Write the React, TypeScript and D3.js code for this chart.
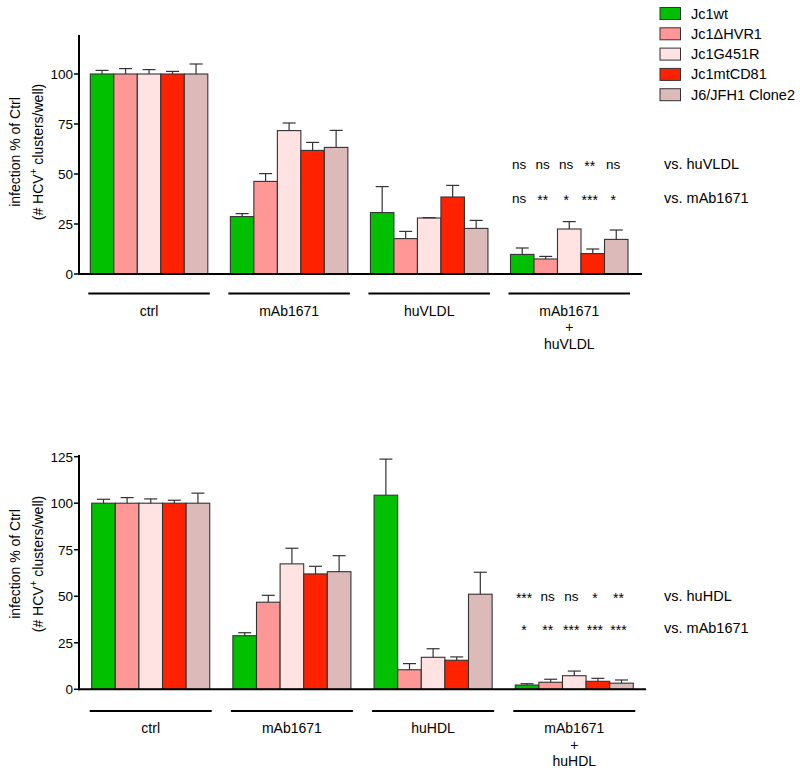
import React from "react";
import * as d3 from "d3";

const series = ["Jc1wt", "Jc1\u0394HVR1", "Jc1G451R", "Jc1mtCD81", "J6/JFH1 Clone2"];
const colors = ["#00c000", "#ff9797", "#ffe3e3", "#ff2200", "#dcbaba"];

const topGroups = ["ctrl", "mAb1671", "huVLDL", "combo"];
const topGroupLabels = [["ctrl"], ["mAb1671"], ["huVLDL"], ["mAb1671", "+", "huVLDL"]];
const topValues = [
  [100, 100, 100, 100, 100],
  [28.7, 46.3, 71.7, 61.8, 63.3],
  [30.7, 17.7, 28, 38.5, 22.8],
  [9.8, 7.5, 22.5, 10.2, 17.3],
];
const topErrTops = [
  [101.8, 102.7, 102.2, 101.3, 105],
  [30.2, 50.2, 75.5, 65.8, 71.8],
  [43.7, 21.3, 28.2, 44.3, 26.8],
  [13, 8.8, 26.2, 12.5, 22],
];
const topTicks = [0, 25, 50, 75, 100];
const topSig1 = ["ns", "ns", "ns", "**", "ns"];
const topSig2 = ["ns", "**", "*", "***", "*"];
const topSigLabels = ["vs. huVLDL", "vs. mAb1671"];

const botGroups = ["ctrl", "mAb1671", "huHDL", "combo"];
const botGroupLabels = [["ctrl"], ["mAb1671"], ["huHDL"], ["mAb1671", "+", "huHDL"]];
const botValues = [
  [100, 100, 100, 100, 100],
  [28.8, 46.8, 67.4, 62, 63.2],
  [104.3, 10.5, 17.2, 15.6, 51.1],
  [2.3, 3.8, 7.3, 4.3, 3.3],
];
const botErrTops = [
  [102.1, 103, 102.3, 101.6, 105.4],
  [30.4, 50.5, 75.8, 66.1, 71.8],
  [123.7, 13.8, 21.8, 17.4, 62.9],
  [3, 5.4, 9.8, 5.9, 5],
];
const botTicks = [0, 25, 50, 75, 100, 125];
const botSig1 = ["***", "ns", "ns", "*", "**"];
const botSig2 = ["*", "**", "***", "***", "***"];
const botSigLabels = ["vs. huHDL", "vs. mAb1671"];

const FONT = "Arial, Helvetica, sans-serif";

type PanelProps = {
  groups: string[];
  groupLabels: string[][];
  values: number[][];
  errTops: number[][];
  ticks: number[];
  y0: number;
  yTopPx: number;
  yTopVal: number;
  xStart: number;
  xEnd: number;
  padInner: number;
  axisEnd: number;
  sig1: string[];
  sig2: string[];
  sigY: [number, number];
  sigLabels: string[];
  lineY: number;
  labelCenterY: number;
};

function Panel(p: PanelProps) {
  const axisX = 79;
  const y = d3.scaleLinear().domain([0, p.yTopVal]).range([p.y0, p.yTopPx]);
  const xg = d3.scaleBand<string>().domain(p.groups).range([p.xStart, p.xEnd]).paddingInner(p.padInner).paddingOuter(0);
  const xs = d3.scaleBand<string>().domain(series).range([0, xg.bandwidth()]);
  const bw = xs.bandwidth();
  const labelCenterY = p.labelCenterY;
  return (
    <g>
      <text transform={`translate(20,${labelCenterY}) rotate(-90)`} textAnchor="middle" fontSize={14} fontFamily={FONT}>
        infection % of Ctrl
      </text>
      <text transform={`translate(43,${labelCenterY}) rotate(-90)`} textAnchor="middle" fontSize={14} fontFamily={FONT}>
        (# HCV<tspan dy={-6} fontSize={10}>+</tspan>
        <tspan dy={6}> clusters/well)</tspan>
      </text>
      {p.groups.map((g, gi) => (
        <g key={g} transform={`translate(${xg(g)},0)`}>
          {series.map((s, si) => {
            const x = xs(s)!;
            const cx = x + bw / 2;
            const v = p.values[gi][si];
            const e = p.errTops[gi][si];
            return (
              <g key={s}>
                <rect x={x} y={y(v)} width={bw} height={p.y0 - y(v)} fill={colors[si]} stroke="#333" strokeWidth={1.1} />
                <line x1={cx} x2={cx} y1={y(v)} y2={y(e)} stroke="#333" strokeWidth={1.2} />
                <line x1={cx - 6.5} x2={cx + 6.5} y1={y(e)} y2={y(e)} stroke="#333" strokeWidth={1.2} />
              </g>
            );
          })}
          <line x1={-2} x2={xg.bandwidth() + 2} y1={p.lineY} y2={p.lineY} stroke="#000" strokeWidth={1.8} />
          {p.groupLabels[gi].map((t, ti) => (
            <text key={ti} x={xg.bandwidth() / 2} y={p.lineY + 22 + ti * 16.5} textAnchor="middle" fontSize={14} fontFamily={FONT}>
              {t}
            </text>
          ))}
        </g>
      ))}
      <line x1={axisX} x2={axisX} y1={p.yTopPx} y2={p.y0 + 1} stroke="#000" strokeWidth={2} />
      <line x1={axisX - 1} x2={p.axisEnd} y1={p.y0} y2={p.y0} stroke="#000" strokeWidth={2} />
      {p.ticks.map((t) => (
        <g key={t}>
          <line x1={axisX - 5} x2={axisX} y1={y(t)} y2={y(t)} stroke="#000" strokeWidth={1.5} />
          <text x={axisX - 6} y={y(t) + 5} textAnchor="end" fontSize={13.5} fontFamily={FONT}>
            {t}
          </text>
        </g>
      ))}
      {[p.sig1, p.sig2].map((row, ri) => (
        <g key={ri}>
          {row.map((s, si) => {
            const cx = xg(p.groups[3])! + xs(series[si])! + bw / 2;
            const isStar = s.includes("*");
            return (
              <text key={si} x={cx - 3} y={p.sigY[ri] + (isStar ? 7 : 5)} textAnchor="middle" fontSize={isStar ? 14 : 13.5} fontFamily={FONT}>
                {s}
              </text>
            );
          })}
          <text x={664} y={p.sigY[ri] + 5} fontSize={14.5} fontFamily={FONT}>
            {p.sigLabels[ri]}
          </text>
        </g>
      ))}
    </g>
  );
}

export default function App() {
  return (
    <svg width={800} height={774} style={{ position: "absolute", left: 0, top: 0, background: "#fff" }}>
      <rect width={800} height={774} fill="#fff" />
      {series.map((s, i) => (
        <g key={s}>
          <rect x={660} y={7.5 + i * 20.3} width={20.5} height={12} fill={colors[i]} stroke="#333" strokeWidth={1} />
          <text x={691} y={18.5 + i * 20.3} fontSize={14.5} fontFamily={FONT}>
            {s}
          </text>
        </g>
      ))}
      <Panel
        groups={topGroups}
        groupLabels={topGroupLabels}
        values={topValues}
        errTops={topErrTops}
        ticks={topTicks}
        y0={274}
        yTopPx={35}
        yTopVal={119.5}
        xStart={90.3}
        xEnd={628}
        padInner={0.161}
        axisEnd={642}
        sig1={topSig1}
        sig2={topSig2}
        sigY={[164, 198]}
        sigLabels={topSigLabels}
        lineY={293.5}
        labelCenterY={152}
      />
      <Panel
        groups={botGroups}
        groupLabels={botGroupLabels}
        values={botValues}
        errTops={botErrTops}
        ticks={botTicks}
        y0={689.3}
        yTopPx={455}
        yTopVal={125.9}
        xStart={91.7}
        xEnd={633.3}
        padInner={0.164}
        axisEnd={646}
        sig1={botSig1}
        sig2={botSig2}
        sigY={[596, 628]}
        sigLabels={botSigLabels}
        lineY={711}
        labelCenterY={564}
      />
    </svg>
  );
}
